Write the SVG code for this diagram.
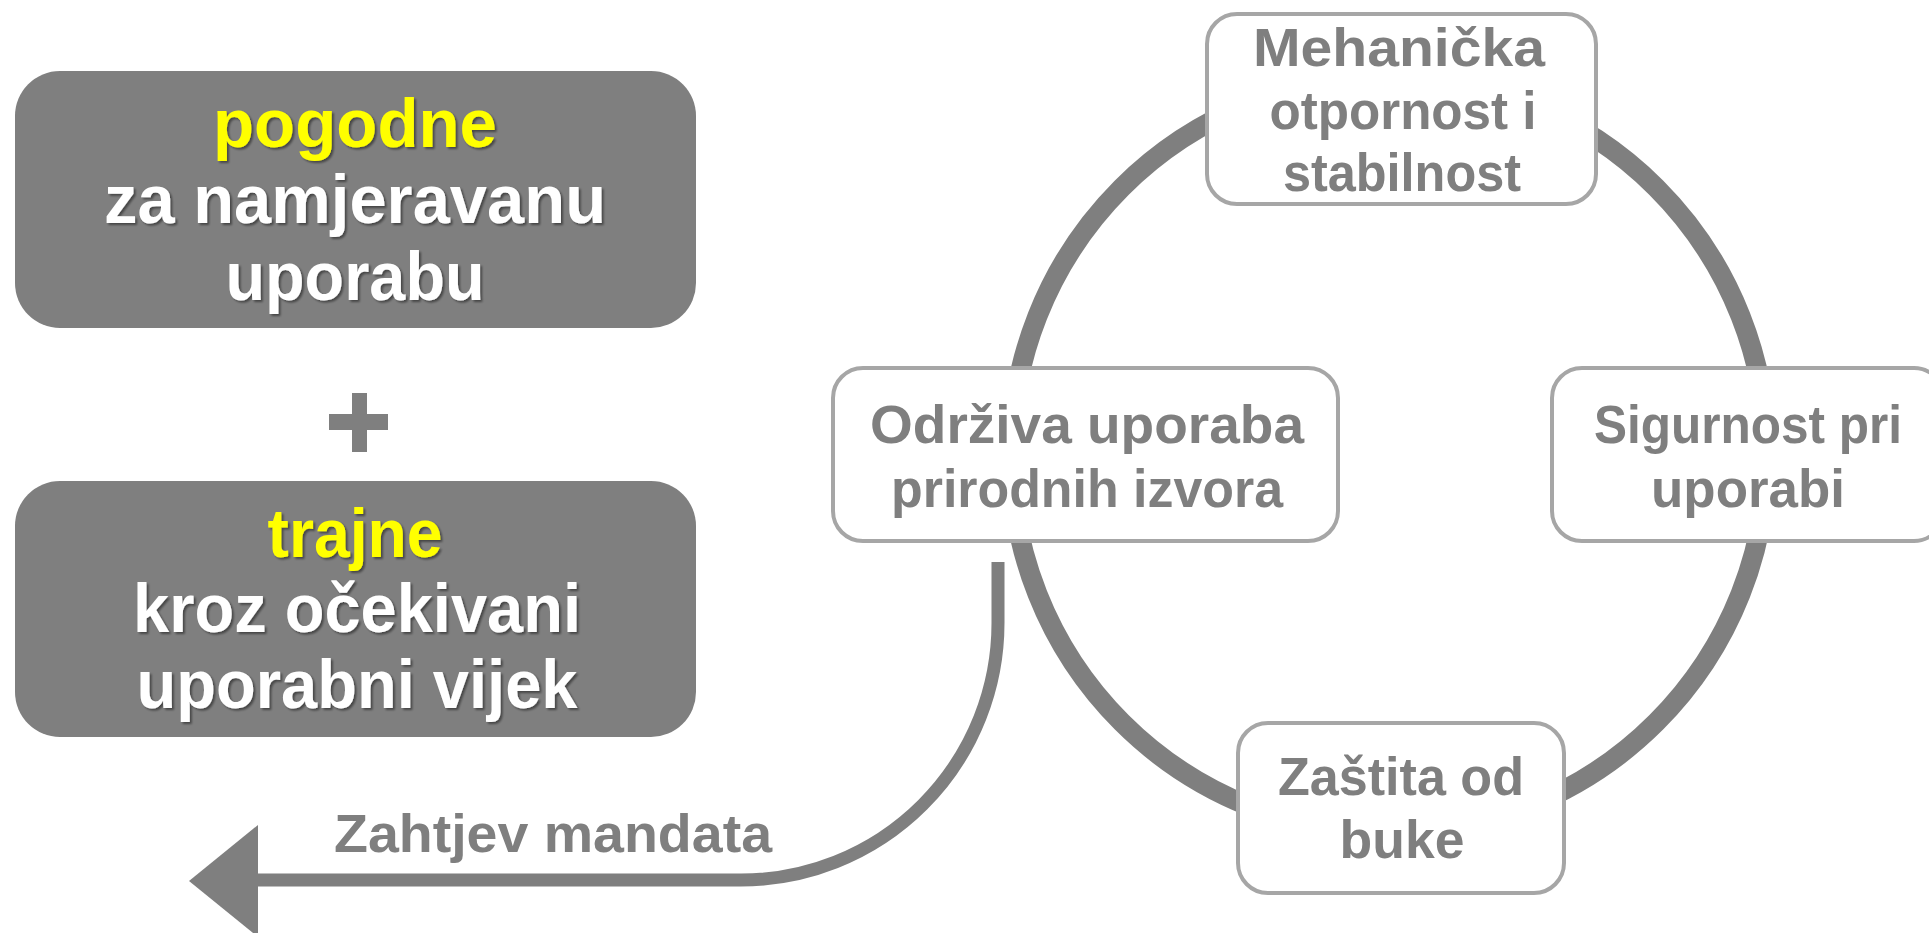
<svg xmlns="http://www.w3.org/2000/svg" width="1929" height="933" viewBox="0 0 1929 933">
<style>
.dark{fill:#7f7f7f}
.node{fill:#ffffff;stroke:#a6a6a6;stroke-width:4}
.wt{font-family:"Liberation Sans",Arial,sans-serif;font-weight:bold;font-size:68px;fill:#ffffff;text-anchor:middle;filter:url(#sh)}
.yt{fill:#ffff00}
.gt{font-family:"Liberation Sans",Arial,sans-serif;font-weight:bold;font-size:54px;fill:#7f7f7f;text-anchor:middle}
.ring{fill:none;stroke:#7f7f7f;stroke-width:20}
.conn{fill:none;stroke:#7f7f7f;stroke-width:13}
</style>
<defs>
<filter id="sh" x="-10%" y="-30%" width="120%" height="160%">
<feDropShadow dx="2" dy="2" stdDeviation="1" flood-color="#000000" flood-opacity="0.45"/>
</filter>
</defs>
<rect width="1929" height="933" fill="#ffffff"/>

<g id="box-pogodne">
<rect class="dark" x="15" y="71" width="681" height="257" rx="45"/>
<text class="wt yt" x="355" y="147" textLength="284" lengthAdjust="spacingAndGlyphs">pogodne</text>
<text class="wt" x="355" y="223" textLength="502" lengthAdjust="spacingAndGlyphs">za namjeravanu</text>
<text class="wt" x="355" y="300" textLength="259" lengthAdjust="spacingAndGlyphs">uporabu</text>
</g>

<g id="plus">
<rect class="dark" x="329" y="414" width="59" height="16"/>
<rect class="dark" x="352" y="393" width="15" height="59"/>
</g>

<g id="box-trajne">
<rect class="dark" x="15" y="481" width="681" height="256" rx="45"/>
<text class="wt yt" x="355" y="557" textLength="175" lengthAdjust="spacingAndGlyphs">trajne</text>
<text class="wt" x="357" y="632" textLength="448" lengthAdjust="spacingAndGlyphs">kroz očekivani</text>
<text class="wt" x="357" y="708" textLength="441" lengthAdjust="spacingAndGlyphs">uporabni vijek</text>
</g>

<g id="connectors">
<circle class="ring" cx="1389" cy="455" r="378"/>
<path class="conn" d="M998,562 V623 A257,257 0 0 1 741,880 H255"/>
<polygon class="dark" points="258,825 189,881 258,937"/>
<text class="gt" x="553" y="852" textLength="438" lengthAdjust="spacingAndGlyphs">Zahtjev mandata</text>
</g>

<g id="node-mehanicka">
<rect class="node" x="1207" y="14" width="389" height="190" rx="30"/>
<text class="gt" x="1399" y="66" textLength="292" lengthAdjust="spacingAndGlyphs">Mehanička</text>
<text class="gt" x="1403" y="129" textLength="267" lengthAdjust="spacingAndGlyphs">otpornost i</text>
<text class="gt" x="1402" y="191" textLength="238" lengthAdjust="spacingAndGlyphs">stabilnost</text>
</g>

<g id="node-odrziva">
<rect class="node" x="833" y="368" width="505" height="173" rx="30"/>
<text class="gt" x="1087" y="443" textLength="434" lengthAdjust="spacingAndGlyphs">Održiva uporaba</text>
<text class="gt" x="1087" y="507" textLength="392" lengthAdjust="spacingAndGlyphs">prirodnih izvora</text>
</g>

<g id="node-sigurnost">
<rect class="node" x="1552" y="368" width="392" height="173" rx="30"/>
<text class="gt" x="1748" y="443" textLength="308" lengthAdjust="spacingAndGlyphs">Sigurnost pri</text>
<text class="gt" x="1748" y="507" textLength="194" lengthAdjust="spacingAndGlyphs">uporabi</text>
</g>

<g id="node-zastita">
<rect class="node" x="1238" y="723" width="326" height="170" rx="30"/>
<text class="gt" x="1401" y="795" textLength="246" lengthAdjust="spacingAndGlyphs">Zaštita od</text>
<text class="gt" x="1402" y="858" textLength="125" lengthAdjust="spacingAndGlyphs">buke</text>
</g>
</svg>
